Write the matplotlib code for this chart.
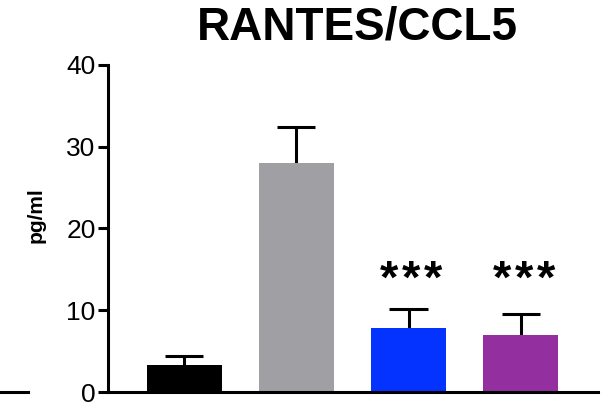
import matplotlib
matplotlib.use('Agg')
import matplotlib.pyplot as plt
from matplotlib.lines import Line2D

# data
groups = ['ctrl', 'stim', 'treat1', 'treat2']
means = [3.3, 28.0, 7.8, 7.0]
errs = [1.1, 4.4, 2.4, 2.5]
colors = ['#000000', '#a09fa4', '#0433ff', '#942fa0']
stars = [0, 0, 3, 3]  # number of asterisks above each bar
yticks = [0, 10, 20, 30, 40]

plt.rcParams['font.family'] = ['Liberation Sans', 'DejaVu Sans']

fig = plt.figure(figsize=(6.11, 4.04), dpi=100)
ax = fig.add_axes([108/611, 12/404, 490/611, 327/404])

x = list(range(len(groups)))
ax.bar(x, means, width=0.67, color=colors, zorder=2)

# upper error bars only (stem + cap)
tops = [m + e for m, e in zip(means, errs)]
ax.vlines(x, means, tops, color='black', linewidth=2.2, zorder=1)
ax.hlines(tops, [xi - 0.17 for xi in x], [xi + 0.17 for xi in x],
          color='black', linewidth=2.2, zorder=1)

# significance marks, spaced out like the original
for xi, n in zip(x, stars):
    for k in range(n):
        off = (k - (n - 1) / 2) * 22 + 3
        ax.annotate('*', (xi, 12.2), xytext=(off, 0), textcoords='offset pixels',
                    ha='center', va='baseline', fontsize=34, fontweight='bold')

ax.set_xlim(-0.68, 3.69)
ax.set_ylim(0, 40)
ax.set_yticks(yticks)
ax.set_xticks([])
ax.tick_params(axis='y', length=7, width=2.2, labelsize=19, pad=2)
for side in ['top', 'right']:
    ax.spines[side].set_visible(False)
for side in ['left', 'bottom']:
    ax.spines[side].set_linewidth(2.2)

fig.text(36/611, 1 - 215/404, 'pg/ml', rotation=90, ha='center', va='center',
         fontsize=15, fontweight='bold')
fig.text(357/611, 1 - 28/404, 'RANTES/CCL5', ha='center', va='center',
         fontsize=33, fontweight='bold')

# stray axis fragment from the neighbouring panel
fig.add_artist(Line2D([0, 28/611], [12/404, 12/404], color='black', linewidth=2.2))

fig.savefig('out.png', dpi=100)
